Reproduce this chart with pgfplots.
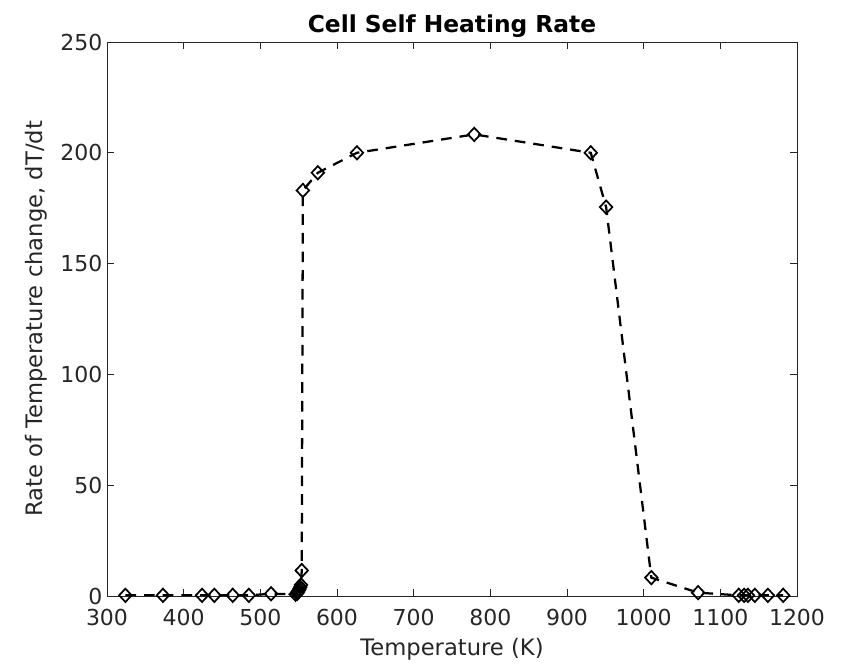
\documentclass[border=0pt]{standalone}
\usepackage{pgfplots}
\pgfplotsset{compat=1.18}
\usepackage{fontspec}
\setmainfont{DejaVu Sans}
\definecolor{axgray}{RGB}{38,38,38}
\begin{document}
\begin{tikzpicture}
\begin{axis}[
  scale only axis,
  width=517.5pt, height=415.5pt,
  xmin=300, xmax=1200, ymin=0, ymax=250,
  xtick={300,400,...,1200}, ytick={0,50,...,250},
  tick align=inside,
  major tick length=5pt,
  axis line style={axgray, line width=0.6pt},
  tick style={axgray, line width=0.6pt},
  ticklabel style={font=\fontsize{16.5}{18}\selectfont, text=axgray},
  xticklabel style={yshift=-6pt},
  label style={font=\fontsize{17}{19}\selectfont, text=axgray},
  /pgf/number format/assume math mode=true,
  /pgf/number format/1000 sep={},
  title={\bfseries Cell Self Heating Rate},
  title style={font=\fontsize{17.5}{19}\selectfont, yshift=-6pt},
  xlabel={Temperature (K)},
  ylabel={Rate of Temperature change, dT/dt},
  xlabel style={yshift=-3pt},
  ylabel style={yshift=3pt},
]
\addplot[black, line width=1.7pt, dash pattern=on 8pt off 6pt,
  mark=diamond, mark size=5pt, mark options={solid, line width=1.3pt, fill=white, xscale=1.25}]
coordinates {
(324,0.3) (373,0.3) (424,0.3) (440,0.3) (464,0.3) (485,0.3) (514,1.0)
(546,0.8) (548,1.2) (549,1.8) (550,2.5) (551,3.2) (552,4.0) (553,5.0)
(554,11.5) (555.5,183) (575,191) (626,200) (779,208.3) (931,200) (951,175.5)
(1010,8.3) (1071,1.5) (1124,0.3) (1131,0.3) (1136,0.3) (1145,0.3) (1162,0.3) (1182,0.3)
};
\end{axis}
\path (current axis.south west) ++(-80.25pt,-48.75pt) coordinate (bl);
\path (current axis.north east) ++(33pt,31.5pt) coordinate (tr);
\useasboundingbox (bl) rectangle (tr);
\end{tikzpicture}
\end{document}
